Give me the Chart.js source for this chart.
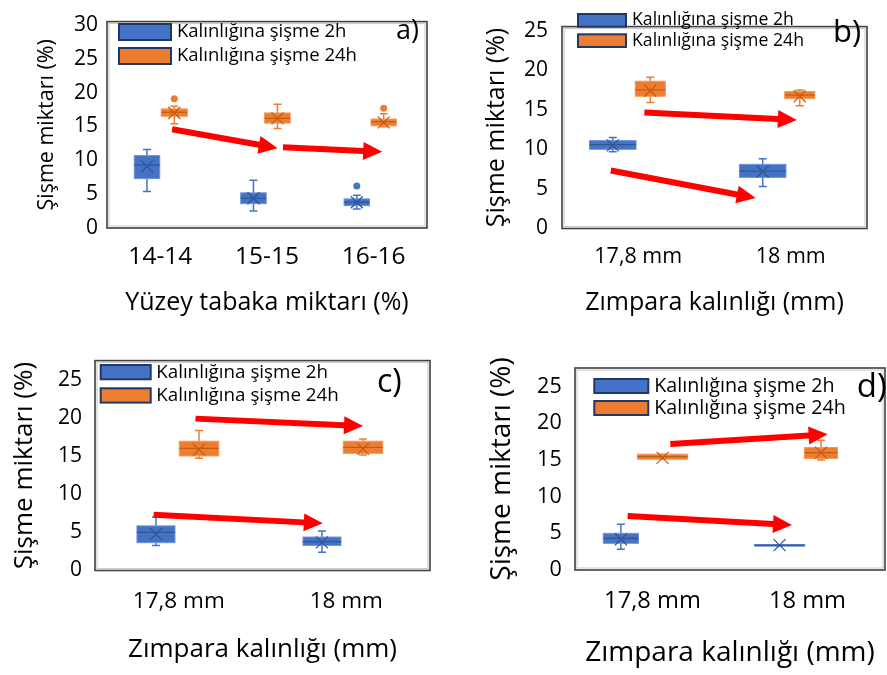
<!DOCTYPE html>
<html>
<head>
<meta charset="utf-8">
<script src="https://cdn.jsdelivr.net/npm/chart.js@4.4.1/dist/chart.umd.min.js"></script>
<style>
  html, body { margin: 0; padding: 0; background: #fff; }
  #wrap { position: relative; width: 887px; height: 675px; overflow: hidden; }
  canvas { position: absolute; }
</style>
</head>
<body>
<div id="wrap">
  <canvas id="ca" width="440" height="335" style="left:0;top:0;width:440px;height:335px"></canvas>
  <canvas id="cb" width="447" height="335" style="left:440px;top:0;width:447px;height:335px"></canvas>
  <canvas id="cc" width="440" height="340" style="left:0;top:335px;width:440px;height:340px"></canvas>
  <canvas id="cd" width="447" height="340" style="left:440px;top:335px;width:447px;height:340px"></canvas>
</div>
<script>
// box stats per category: [min, q1, median, q3, max, mean]
const catsA = ['14-14', '15-15', '16-16'];
const a2h  = [[5.4, 7.3, 9.3, 10.7, 11.6, 9.1], [2.5, 3.6, 4.4, 5.2, 7.05, 4.4], [2.8, 3.3, 3.8, 4.3, 4.85, 3.8]];
const a24h = [[15.4, 16.5, 17.1, 17.6, 18.0, 17.0], [14.7, 15.5, 16.2, 17.0, 18.3, 16.2], [14.95, 15.1, 15.7, 16.1, 16.9, 15.6]];
const aOut2h  = [[], [], [6.2]];
const aOut24h = [[19.1], [], [17.7]];

const catsB = ['17,8 mm', '18 mm'];
const b2h  = [[9.7, 10.0, 10.6, 11.1, 11.5, 10.5], [5.3, 6.45, 7.25, 8.1, 8.8, 7.2]];
const b24h = [[15.9, 16.7, 17.5, 18.6, 19.1, 17.4], [15.5, 16.4, 16.85, 17.3, 17.5, 16.7]];

const catsC = ['17,8 mm', '18 mm'];
const c2h  = [[3.3, 3.66, 5.0, 5.87, 7.05, 4.8], [2.4, 3.3, 3.8, 4.4, 5.2, 3.7]];
const c24h = [[14.76, 15.06, 16.07, 17.0, 18.4, 15.9], [15.2, 15.4, 16.2, 17.0, 17.3, 16.0]];

const catsD = ['17,8 mm', '18 mm'];
const d2h  = [[2.82, 3.64, 4.3, 5.0, 6.23, 4.2], [3.3, 3.3, 3.4, 3.45, 3.45, 3.4]];
const d24h = [[15.1, 15.1, 15.46, 15.8, 15.8, 15.3], [15.0, 15.2, 16.0, 16.7, 17.7, 16.0]];

const yTicks = [0, 5, 10, 15, 20, 25, 30];
const seriesNames = ['Kalınlığına şişme 2h', 'Kalınlığına şişme 24h'];
const yTitle = 'Şişme miktarı (%)';

Chart.defaults.font.family = "'Open Sans', sans-serif";
Chart.defaults.color = '#000';

const BLUE = '#4472C4', ORANGE = '#ED7D31';
const colors = [
  { fill: BLUE, edge: '#6F94D6', dark: '#2F5597' },
  { fill: ORANGE, edge: '#F29A5E', dark: '#C55A11' }
];

// panel layout / styling (pixels relative to each canvas)
const panels = [
  {
    id: 'ca', tag: 'a)', cats: catsA, s2h: a2h, s24h: a24h, out2h: aOut2h, out24h: aOut24h,
    xTitle: 'Yüzey tabaka miktarı (%)', yMax: 30.5,
    area: { left: 107, top: 11, right: 13, xh: 107 },
    yTick: { size: 21, pad: 9 }, xTick: { size: 24.5, pad: 14 },
    yT: { size: 21.5, pad: 34 }, xT: { size: 25, pad: 17 },
    off: [[-0.125, -0.127, -0.158], [0.131, 0.098, 0.094]],
    wid: [[0.239, 0.239, 0.239], [0.244, 0.24, 0.237]],
    legend: { x: 119, y: [24, 48], w: 52, h: 16, gap: 6, size: 18.5 },
    label: { x: 396, y: 31, size: 27 },
    arrows: [[0.11, 14.6, 1.10, 11.8], [1.15, 11.95, 2.08, 11.25]]
  },
  {
    id: 'cb', tag: 'b)', cats: catsB, s2h: b2h, s24h: b24h, out2h: [[], []], out24h: [[], []],
    xTitle: 'Zımpara kalınlığı (mm)', yMax: 25.5,
    area: { left: 122, top: 8, right: 20, xh: 106.5 },
    yTick: { size: 21, pad: 14 }, xTick: { size: 21.5, pad: 15.5 },
    yT: { size: 25, pad: 42 }, xT: { size: 25, pad: 17 },
    off: [[-0.167, -0.184], [0.079, 0.059]],
    wid: [[0.305, 0.305], [0.197, 0.197]],
    legend: { x: 138, y: [14, 34.3], w: 48, h: 12.7, gap: 6, size: 17.7 },
    label: { x: 393, y: 33, size: 31 },
    arrows: [[0.04, 14.65, 1.04, 13.7], [-0.18, 7.33, 0.77, 3.85]]
  },
  {
    id: 'cc', tag: 'c)', cats: catsC, s2h: c2h, s24h: c24h, out2h: [[], []], out24h: [[], []],
    xTitle: 'Zımpara kalınlığı (mm)', yMax: 27.6,
    area: { left: 95, top: 18, right: 10, xh: 104.5 },
    yTick: { size: 21, pad: 13 }, xTick: { size: 22.5, pad: 17.7 },
    yT: { size: 26, pad: 9.4 }, xT: { size: 26, pad: 9.4 },
    off: [[-0.136, -0.145], [0.121, 0.100]],
    wid: [[0.227, 0.227], [0.236, 0.236]],
    legend: { x: 100.7, y: [30, 53.3], w: 50, h: 14.3, gap: 5.5, size: 18.8 },
    label: { x: 377, y: 48, size: 32 },
    arrows: [[0.10, 19.97, 1.10, 19.0], [-0.15, 7.34, 0.86, 6.2]]
  },
  {
    id: 'cd', tag: 'd)', cats: catsD, s2h: d2h, s24h: d24h, out2h: [[], []], out24h: [[], []],
    xTitle: 'Zımpara kalınlığı (mm)', yMax: 27.55,
    area: { left: 135, top: 33, right: 2, xh: 105 },
    yTick: { size: 21.5, pad: 13.3 }, xTick: { size: 23.7, pad: 17.5 },
    yT: { size: 28, pad: 45 }, xT: { size: 28, pad: 5 },
    off: [[-0.204, -0.180], [0.065, 0.087]],
    wid: [[0.227, 0.324], [0.324, 0.214]],
    legend: { x: 154.3, y: [44, 66], w: 54, h: 14, gap: 6, size: 19.7 },
    label: { x: 416.7, y: 53, size: 33 },
    arrows: [[0.115, 17.2, 1.13, 18.5], [-0.16, 7.37, 0.90, 6.14]]
  }
];

function drawArrow(ctx, x0, y0, x1, y1) {
  const dx = x1 - x0, dy = y1 - y0, len = Math.hypot(dx, dy);
  const ux = dx / len, uy = dy / len, nx = -uy, ny = ux;
  const t = 3, h = 9, L = 19;
  const bx = x1 - ux * L, by = y1 - uy * L;
  ctx.beginPath();
  ctx.moveTo(x0 + nx * t, y0 + ny * t);
  ctx.lineTo(bx + nx * t, by + ny * t);
  ctx.lineTo(bx + nx * h, by + ny * h);
  ctx.lineTo(x1, y1);
  ctx.lineTo(bx - nx * h, by - ny * h);
  ctx.lineTo(bx - nx * t, by - ny * t);
  ctx.lineTo(x0 - nx * t, y0 - ny * t);
  ctx.closePath();
  ctx.fillStyle = '#FF0000';
  ctx.fill();
}

const boxPlugin = {
  id: 'boxes',
  afterDatasetsDraw(chart) {
    const { ctx } = chart;
    const xs = chart.scales.x, ys = chart.scales.y;
    const P = chart.options.plugins.boxes;
    const band = xs.width / xs.getLabels().length;
    ctx.save();
    chart.data.datasets.forEach((ds, di) => {
      const c = colors[di];
      ds.stats.forEach((s, i) => {
        const cx = xs.getPixelForValue(i) + P.off[di][i] * band;
        const w = P.wid[di][i] * band;
        const [mn, q1, md, q3, mx, mean] = s.map(v => ys.getPixelForValue(v));
        const cap = 4;
        // whiskers
        ctx.strokeStyle = c.fill;
        ctx.lineWidth = 1.5;
        ctx.beginPath();
        ctx.moveTo(cx, q3); ctx.lineTo(cx, mx);
        ctx.moveTo(cx - cap, mx); ctx.lineTo(cx + cap, mx);
        ctx.moveTo(cx, q1); ctx.lineTo(cx, mn);
        ctx.moveTo(cx - cap, mn); ctx.lineTo(cx + cap, mn);
        ctx.stroke();
        // box
        ctx.fillStyle = c.fill;
        ctx.fillRect(cx - w / 2, q3, w, Math.max(q1 - q3, 1.5));
        ctx.strokeStyle = c.edge;
        ctx.lineWidth = 1;
        ctx.strokeRect(cx - w / 2, q3, w, Math.max(q1 - q3, 1.5));
        // median
        ctx.strokeStyle = c.dark;
        ctx.lineWidth = 1.2;
        ctx.beginPath();
        ctx.moveTo(cx - w / 2, md); ctx.lineTo(cx + w / 2, md);
        ctx.stroke();
        // mean marker
        const m = 6;
        ctx.beginPath();
        ctx.moveTo(cx - m, mean - m); ctx.lineTo(cx + m, mean + m);
        ctx.moveTo(cx - m, mean + m); ctx.lineTo(cx + m, mean - m);
        ctx.stroke();
        // outliers
        ctx.fillStyle = c.fill;
        (ds.outliers[i] || []).forEach(v => {
          ctx.beginPath();
          ctx.arc(cx, ys.getPixelForValue(v), 3.5, 0, Math.PI * 2);
          ctx.fill();
        });
      });
    });
    // trend arrows (data coordinates: category index, value)
    P.arrows.forEach(a => {
      const band0 = xs.getPixelForValue(0);
      drawArrow(ctx,
        band0 + a[0] * band, ys.getPixelForValue(a[1]),
        band0 + a[2] * band, ys.getPixelForValue(a[3]));
    });
    ctx.restore();
  },
  afterDraw(chart) {
    const { ctx, chartArea: ca } = chart;
    const P = chart.options.plugins.boxes;
    ctx.save();
    // plot frame
    ctx.strokeStyle = '#C8C8C8';
    ctx.lineWidth = 1;
    ctx.strokeRect(ca.left + 2, ca.top + 2, ca.right - ca.left - 4, ca.bottom - ca.top - 4);
    ctx.strokeStyle = '#404040';
    ctx.lineWidth = 1.6;
    ctx.strokeRect(ca.left, ca.top, ca.right - ca.left, ca.bottom - ca.top);
    // legend
    const L = P.legend;
    chart.data.datasets.forEach((ds, di) => {
      const y = L.y[di];
      ctx.fillStyle = colors[di].fill;
      ctx.fillRect(L.x, y, L.w, L.h);
      ctx.strokeStyle = '#1F3864';
      ctx.lineWidth = 2;
      ctx.strokeRect(L.x, y, L.w, L.h);
      ctx.fillStyle = '#000';
      ctx.font = L.size + "px 'Open Sans'";
      ctx.textAlign = 'left';
      ctx.textBaseline = 'middle';
      ctx.fillText(ds.label, L.x + L.w + L.gap, y + L.h / 2);
    });
    // panel tag
    ctx.font = P.label.size + "px 'Open Sans'";
    ctx.fillText(P.tag, P.label.x, P.label.y);
    ctx.restore();
  }
};

panels.forEach(p => {
  const sets = [p.s2h, p.s24h];
  const outs = [p.out2h, p.out24h];
  new Chart(document.getElementById(p.id), {
    type: 'line',
    data: {
      labels: p.cats,
      datasets: sets.map((s, di) => ({
        label: seriesNames[di],
        data: s.map(r => r[2]),
        stats: s,
        outliers: outs[di],
        showLine: false,
        pointRadius: 0,
        borderColor: colors[di].fill,
        backgroundColor: colors[di].fill
      }))
    },
    options: {
      responsive: false,
      animation: false,
      devicePixelRatio: 1,
      layout: { padding: { top: p.area.top, right: p.area.right, left: 0, bottom: 0 } },
      plugins: {
        legend: { display: false },
        tooltip: { enabled: false },
        boxes: { off: p.off, wid: p.wid, legend: p.legend, label: p.label, tag: p.tag, arrows: p.arrows }
      },
      scales: {
        x: {
          type: 'category',
          offset: true,
          grid: { display: false, drawTicks: false },
          border: { display: false },
          ticks: { font: { size: p.xTick.size }, padding: p.xTick.pad, color: '#000', maxRotation: 0 },
          title: { display: true, text: p.xTitle, font: { size: p.xT.size }, padding: { top: 0, bottom: p.xT.pad }, color: '#000' },
          afterFit: s => { s.height = p.area.xh; }
        },
        y: {
          min: 0,
          max: p.yMax,
          grid: { display: false, drawTicks: false },
          border: { display: false },
          afterBuildTicks: s => { s.ticks = yTicks.filter(v => v <= p.yMax).map(v => ({ value: v })); },
          ticks: { font: { size: p.yTick.size }, padding: p.yTick.pad, color: '#000' },
          title: { display: true, text: yTitle, font: { size: p.yT.size }, padding: { top: p.yT.pad, bottom: 0 }, color: '#000' },
          afterFit: s => { s.width = p.area.left; }
        }
      }
    },
    plugins: [boxPlugin]
  });
});
</script>
</body>
</html>
